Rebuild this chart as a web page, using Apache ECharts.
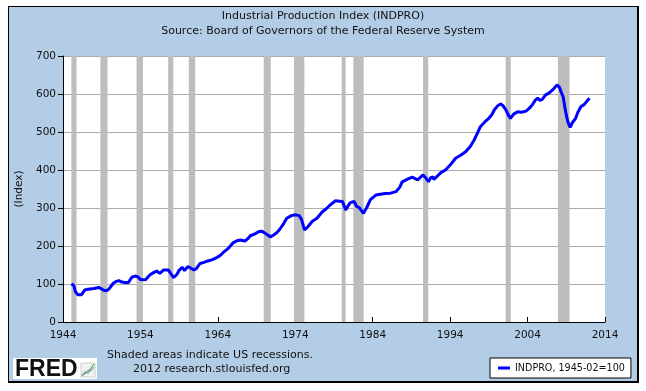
<!DOCTYPE html>
<html>
<head>
<meta charset="utf-8">
<script src="https://cdn.jsdelivr.net/npm/echarts@6/dist/echarts.min.js"></script>
<style>
html,body{margin:0;padding:0;background:#fff;}
#frame{position:absolute;left:8px;top:6px;width:628px;height:374px;background:#b4cde6;border-top:1px solid #000;border-left:1px solid #000;border-right:2px solid #000;border-bottom:2px solid #000;}
#chart{position:absolute;left:0;top:0;width:646px;height:391px;}
</style>
</head>
<body>
<div id="frame"></div>
<div id="chart"></div>
<script>
// Decimal years and index values (1945-02 = 100)
const years = [1945.08,1945.4,1945.6,1945.9,1946.1,1946.4,1946.8,1947.2,1947.5,1948.0,1948.6,1948.9,1949.2,1949.6,1949.9,1950.2,1950.5,1950.9,1951.2,1951.6,1952.0,1952.4,1952.6,1952.9,1953.4,1953.7,1954.0,1954.4,1954.7,1955.0,1955.3,1955.7,1956.1,1956.5,1957.0,1957.6,1957.9,1958.3,1958.7,1959.0,1959.4,1959.7,1960.1,1960.5,1960.9,1961.2,1961.7,1962.2,1962.6,1963.3,1963.9,1964.3,1964.7,1965.3,1966.0,1966.5,1966.9,1967.5,1967.9,1968.2,1968.8,1969.3,1969.7,1970.2,1970.8,1971.2,1971.6,1972.0,1972.5,1972.9,1973.5,1974.0,1974.5,1974.8,1975.2,1975.6,1976.2,1976.8,1977.5,1978.0,1978.5,1979.2,1979.7,1980.1,1980.5,1980.8,1981.1,1981.6,1981.9,1982.3,1982.8,1983.2,1983.7,1984.4,1985.0,1985.6,1986.3,1987.0,1987.5,1987.8,1988.5,1989.1,1989.8,1990.5,1990.9,1991.2,1991.5,1991.8,1991.9,1992.8,1993.4,1994.0,1994.7,1995.3,1996.0,1996.6,1997.1,1997.5,1997.9,1998.5,1999.0,1999.4,1999.7,2000.1,2000.5,2000.8,2001.2,2001.5,2001.8,2002.2,2002.7,2003.2,2003.8,2004.2,2004.6,2005.0,2005.3,2005.6,2005.9,2006.3,2006.8,2007.3,2007.8,2008.1,2008.4,2008.6,2008.8,2009.0,2009.2,2009.5,2009.8,2010.2,2010.5,2010.9,2011.3,2011.7,2012.0];
const values = [100,96,80,72,68,72,84,86,87,88,91,88,84,82,86,94,102,107,109,105,104,103,109,118,121,118,112,111,112,119,125,130,134,128,137,137,128,117,125,136,144,135,146,142,137,140,154,157,160,164,170,175,183,193,209,214,216,213,220,227,232,238,239,232,224,229,235,244,259,273,280,282,280,270,242,250,265,273,290,298,308,319,318,317,295,305,314,317,305,300,286,300,322,334,336,338,339,343,355,369,376,381,374,387,378,369,380,382,375,393,400,413,431,438,448,462,479,496,514,527,536,546,558,568,574,570,558,545,536,547,553,552,555,562,571,584,589,583,586,597,603,612,624,618,602,592,567,545,527,512,525,536,552,567,572,582,589];
// US recessions (decimal years)
const recessionStart = [1945.08,1948.83,1953.5,1957.58,1960.25,1969.92,1973.83,1980.0,1981.5,1990.5,2001.17,2007.92];
const recessionEnd   = [1945.75,1949.75,1954.33,1958.25,1961.08,1970.83,1975.17,1980.5,1982.83,1991.17,2001.83,2009.42];
const xTicks = [1944,1954,1964,1974,1984,1994,2004,2014];
const yTicks = [0,100,200,300,400,500,600,700];

const FONT = 'DejaVu Sans';
const chart = echarts.init(document.getElementById('chart'), null, {renderer:'canvas'});
const lineData = years.map((y,i)=>[y, values[i]]);
const areas = recessionStart.map((s,i)=>[{xAxis:s},{xAxis:recessionEnd[i]}]);

chart.setOption({
  animation:false,
  backgroundColor:'transparent',
  textStyle:{fontFamily:FONT},
  title:{
    text:'Industrial Production Index (INDPRO)\nSource: Board of Governors of the Federal Reserve System',
    left:'center', top:4,
    textStyle:{fontFamily:FONT,fontSize:11,fontWeight:'normal',color:'#111',lineHeight:15}
  },
  grid:{left:63,right:41,top:56,bottom:69,show:true,backgroundColor:'#fff',borderWidth:0},
  xAxis:{
    type:'value', min:xTicks[0], max:xTicks[xTicks.length-1], interval:10,
    axisLine:{show:true,lineStyle:{color:'#000',width:1}},
    axisTick:{show:true,inside:true,length:5,lineStyle:{color:'#000'}},
    splitLine:{show:false},
    axisLabel:{fontFamily:FONT,fontSize:10.5,color:'#111',margin:8,formatter:v=>String(v)}
  },
  yAxis:{
    type:'value', min:yTicks[0], max:yTicks[yTicks.length-1], interval:100,
    name:'(Index)', nameLocation:'middle', nameGap:28,
    nameTextStyle:{fontFamily:FONT,fontSize:10.5,color:'#111'},
    axisLine:{show:true,lineStyle:{color:'#000',width:1}},
    axisTick:{show:true,inside:false,length:5,lineStyle:{color:'#000'}},
    splitLine:{show:true,lineStyle:{color:'#aaaaaa',width:1,type:'solid'}},
    axisLabel:{fontFamily:FONT,fontSize:10.5,color:'#111',margin:7}
  },
  legend:{
    show:true, left:490, top:358, orient:'horizontal',
    backgroundColor:'#fff', borderColor:'#000', borderWidth:1, padding:[5,6,5,8],
    icon:'rect', itemWidth:12, itemHeight:3, itemGap:5,
    textStyle:{fontFamily:FONT,fontSize:9.6,color:'#111'},
    data:['INDPRO, 1945-02=100']
  },
  series:[
    {
      name:'recessions', type:'line', data:[], z:1, silent:true,
      markArea:{silent:true, itemStyle:{color:'#bdbdbd',opacity:1}, data:areas}
    },
    {
      name:'INDPRO, 1945-02=100', type:'line', data:lineData, z:3,
      showSymbol:false, symbol:'none', smooth:false,
      lineStyle:{color:'#0000ff',width:3}, itemStyle:{color:'#0000ff'}
    }
  ],
  graphic:[
    {type:'rect', shape:{x:13,y:358,width:84,height:21}, style:{fill:'#fff'}},
    {type:'text', left:15, top:358, style:{text:'FRED', font:'bold 23px "Liberation Sans"', fill:'#111'}},
    {type:'rect', shape:{x:81,y:363,width:14,height:14}, style:{fill:'#f2f2f2',stroke:'#cccccc',lineWidth:1}},
    {type:'polyline', shape:{points:[[82,376],[85,372],[88,373],[91,368],[94,364]]}, style:{stroke:'#55aa44',lineWidth:1.2,fill:null}},
    {type:'polyline', shape:{points:[[82,375],[85,374],[88,370],[91,371],[94,367]]}, style:{stroke:'#6688cc',lineWidth:1,fill:null}},
    {type:'text', left:107, top:350, style:{text:'Shaded areas indicate US recessions.', font:'11px "DejaVu Sans"', fill:'#111'}},
    {type:'text', left:133, top:364, style:{text:'2012 research.stlouisfed.org', font:'11px "DejaVu Sans"', fill:'#111'}}
  ]
});
</script>
</body>
</html>
